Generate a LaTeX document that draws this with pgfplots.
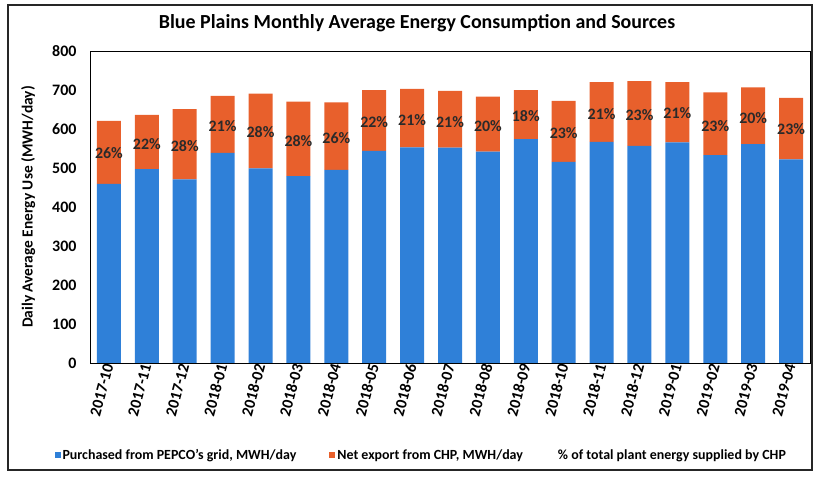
\documentclass[border=0pt]{standalone}
\usepackage{fontspec}
\setmainfont{Carlito}
\usepackage{pgfplots}
\pgfplotsset{compat=1.18}
\definecolor{cblue}{HTML}{2F80D8}
\definecolor{corange}{HTML}{E8602C}
\definecolor{labelgray}{HTML}{2A2A2A}
\begin{document}
\begin{tikzpicture}
\path (0bp,0bp) rectangle (817bp,478bp);
\draw[line width=1.2bp, black!85] (8bp,8bp) rectangle (812bp,473bp);
\node[font=\bfseries\fontsize{20}{23}\selectfont] at (417bp,455bp) {Blue Plains Monthly Average Energy Consumption and Sources};
\begin{axis}[
  at={(90bp,115bp)}, anchor=south west,
  scale only axis, width=720bp, height=312bp,
  ybar stacked, bar width=24bp,
  xmin=-0.5, xmax=18.5, ymin=0, ymax=800,
  ytick={0,100,...,800},
  xtick={0,...,18},
  xticklabels={2017-10,2017-11,2017-12,2018-01,2018-02,2018-03,2018-04,2018-05,2018-06,2018-07,2018-08,2018-09,2018-10,2018-11,2018-12,2019-01,2019-02,2019-03,2019-04},
  x tick label style={rotate=75, anchor=east, font=\bfseries\fontsize{16}{18}\selectfont, inner sep=1bp},
  y tick label style={font=\bfseries\fontsize{16}{18}\selectfont, xshift=-10bp},
  /pgf/number format/assume math mode=true,
  major tick length=0pt,
  axis line style={black, line width=0.9bp},
  ylabel={Daily Average Energy Use (MWH/day)},
  ylabel style={font=\bfseries\fontsize{15.5}{17}\selectfont, at={(axis description cs:-0.086,0.5)}, anchor=center},
  legend style={at={(axis description cs:0.46,-0.295)}, anchor=center, draw=none, fill=none,
    legend columns=3, font=\bfseries\fontsize{14}{16}\selectfont,
    /tikz/every even column/.append style={column sep=31bp}},
  legend cell align=left,
]
\addplot[fill=cblue, draw=none, legend image code/.code={\fill[cblue] (0bp,-3bp) rectangle (6bp,3bp);}] coordinates {
(0,459) (1,497) (2,471) (3,539) (4,499) (5,479) (6,495) (7,544) (8,553) (9,552)
(10,542) (11,574) (12,516) (13,567) (14,557) (15,566) (16,533) (17,561) (18,522)};
\addlegendentry{Purchased from PEPCO's grid, MWH/day}
\addplot[fill=corange, draw=none, legend image code/.code={\fill[corange] (0bp,-3bp) rectangle (6bp,3bp);}] coordinates {
(0,162) (1,139) (2,180) (3,146) (4,192) (5,191) (6,173) (7,156) (8,150) (9,146)
(10,141) (11,126) (12,156) (13,153) (14,166) (15,154) (16,161) (17,146) (18,158)};
\addlegendentry{Net export from CHP, MWH/day}
\addlegendimage{empty legend}
\addlegendentry{\% of total plant energy supplied by CHP}
\end{axis}
\begin{axis}[
  at={(90bp,115bp)}, anchor=south west,
  scale only axis, width=720bp, height=312bp,
  xmin=-0.5, xmax=18.5, ymin=0, ymax=800,
  hide axis,
]
\addplot[draw=none, mark=none, nodes near coords, point meta=explicit symbolic,
  nodes near coords align=center,
  every node near coord/.append style={font=\bfseries\fontsize{16}{18}\selectfont, text=labelgray, inner sep=0pt}]
 coordinates {
(0,538) [26\%] (1,562) [22\%] (2,556) [28\%] (3,608) [21\%] (4,591) [28\%]
(5,570) [28\%] (6,578) [26\%] (7,619) [22\%] (8,623) [21\%] (9,619) [21\%]
(10,608) [20\%] (11,633) [18\%] (12,589) [23\%] (13,638) [21\%] (14,636) [23\%]
(15,640) [21\%] (16,608) [23\%] (17,627) [20\%] (18,599) [23\%]};
\end{axis}
\end{tikzpicture}
\end{document}
